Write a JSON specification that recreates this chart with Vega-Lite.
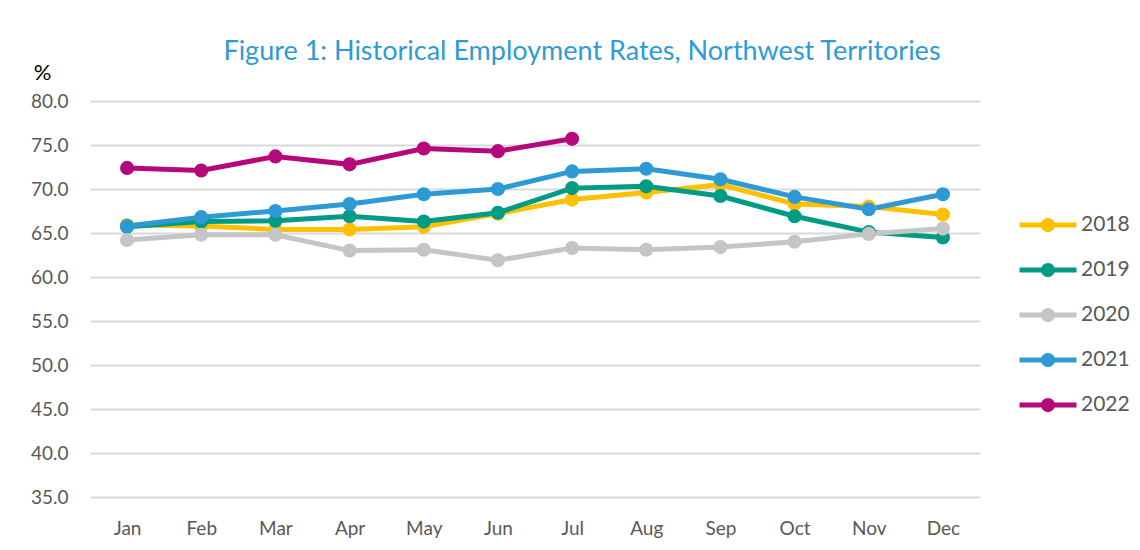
{
  "$schema": "https://vega.github.io/schema/vega-lite/v6.json",
  "width": 890,
  "height": 396,
  "autosize": "none",
  "padding": {"left": 90, "top": 101, "right": 160, "bottom": 53},
  "background": "white",
  "title": {
    "text": "Figure 1: Historical Employment Rates, Northwest Territories",
    "anchor": "middle",
    "dx": 47,
    "dy": 45,
    "offset": 40,
    "font": "Lato",
    "fontSize": 27,
    "fontWeight": "normal",
    "color": "#2E9BD6"
  },
  "data": {
    "values": [
      {"month": "Jan", "year": "2018", "value": 65.9},
      {"month": "Feb", "year": "2018", "value": 65.8},
      {"month": "Mar", "year": "2018", "value": 65.4},
      {"month": "Apr", "year": "2018", "value": 65.4},
      {"month": "May", "year": "2018", "value": 65.7},
      {"month": "Jun", "year": "2018", "value": 67.2},
      {"month": "Jul", "year": "2018", "value": 68.8},
      {"month": "Aug", "year": "2018", "value": 69.6},
      {"month": "Sep", "year": "2018", "value": 70.5},
      {"month": "Oct", "year": "2018", "value": 68.3},
      {"month": "Nov", "year": "2018", "value": 68.0},
      {"month": "Dec", "year": "2018", "value": 67.1},
      {"month": "Jan", "year": "2019", "value": 65.7},
      {"month": "Feb", "year": "2019", "value": 66.3},
      {"month": "Mar", "year": "2019", "value": 66.4},
      {"month": "Apr", "year": "2019", "value": 66.9},
      {"month": "May", "year": "2019", "value": 66.3},
      {"month": "Jun", "year": "2019", "value": 67.3},
      {"month": "Jul", "year": "2019", "value": 70.1},
      {"month": "Aug", "year": "2019", "value": 70.3},
      {"month": "Sep", "year": "2019", "value": 69.2},
      {"month": "Oct", "year": "2019", "value": 66.9},
      {"month": "Nov", "year": "2019", "value": 65.1},
      {"month": "Dec", "year": "2019", "value": 64.5},
      {"month": "Jan", "year": "2020", "value": 64.2},
      {"month": "Feb", "year": "2020", "value": 64.8},
      {"month": "Mar", "year": "2020", "value": 64.8},
      {"month": "Apr", "year": "2020", "value": 63.0},
      {"month": "May", "year": "2020", "value": 63.1},
      {"month": "Jun", "year": "2020", "value": 61.9},
      {"month": "Jul", "year": "2020", "value": 63.3},
      {"month": "Aug", "year": "2020", "value": 63.1},
      {"month": "Sep", "year": "2020", "value": 63.4},
      {"month": "Oct", "year": "2020", "value": 64.0},
      {"month": "Nov", "year": "2020", "value": 64.9},
      {"month": "Dec", "year": "2020", "value": 65.5},
      {"month": "Jan", "year": "2021", "value": 65.8},
      {"month": "Feb", "year": "2021", "value": 66.8},
      {"month": "Mar", "year": "2021", "value": 67.5},
      {"month": "Apr", "year": "2021", "value": 68.3},
      {"month": "May", "year": "2021", "value": 69.4},
      {"month": "Jun", "year": "2021", "value": 70.0},
      {"month": "Jul", "year": "2021", "value": 72.0},
      {"month": "Aug", "year": "2021", "value": 72.3},
      {"month": "Sep", "year": "2021", "value": 71.1},
      {"month": "Oct", "year": "2021", "value": 69.1},
      {"month": "Nov", "year": "2021", "value": 67.7},
      {"month": "Dec", "year": "2021", "value": 69.4},
      {"month": "Jan", "year": "2022", "value": 72.4},
      {"month": "Feb", "year": "2022", "value": 72.1},
      {"month": "Mar", "year": "2022", "value": 73.7},
      {"month": "Apr", "year": "2022", "value": 72.8},
      {"month": "May", "year": "2022", "value": 74.6},
      {"month": "Jun", "year": "2022", "value": 74.3},
      {"month": "Jul", "year": "2022", "value": 75.7}
    ]
  },
  "encoding": {
    "x": {
      "field": "month",
      "type": "ordinal",
      "sort": ["Jan", "Feb", "Mar", "Apr", "May", "Jun", "Jul", "Aug", "Sep", "Oct", "Nov", "Dec"],
      "scale": {"type": "point", "padding": 0.5},
      "axis": {
        "title": null,
        "labelAngle": 0,
        "domain": false,
        "ticks": false,
        "grid": false,
        "labelFont": "Lato",
        "labelFontSize": 19,
        "labelColor": "#595959",
        "labelPadding": 22
      }
    },
    "y": {
      "field": "value",
      "type": "quantitative",
      "scale": {"domain": [35, 80], "nice": false, "zero": false},
      "axis": {
        "values": [35, 40, 45, 50, 55, 60, 65, 70, 75, 80],
        "format": ".1f",
        "domain": false,
        "ticks": false,
        "grid": true,
        "gridColor": "#D9D9D9",
        "gridWidth": 2,
        "labelFont": "Lato",
        "labelFontSize": 19,
        "labelColor": "#595959",
        "labelPadding": 22,
        "title": "%",
        "titleAngle": 0,
        "titleX": -48,
        "titleY": -29,
        "titleAlign": "center",
        "titleBaseline": "middle",
        "titleFont": "Lato",
        "titleFontSize": 22,
        "titleFontWeight": "normal",
        "titleColor": "#000000"
      }
    },
    "color": {
      "field": "year",
      "type": "nominal",
      "scale": {
        "domain": ["2018", "2019", "2020", "2021", "2022"],
        "range": ["#FFC000", "#009B85", "#C4C5C7", "#2E9AD5", "#B5087B"]
      },
      "legend": {
        "title": null,
        "orient": "none",
        "legendX": 943,
        "legendY": 109,
        "symbolType": "M-1.9,-0.17H-0.44V0.17H-1.9Z M0.44,-0.17H1.9V0.17H0.44Z M-0.47,0A0.47,0.47,0,1,1,0.47,0A0.47,0.47,0,1,1,-0.47,0Z",
        "symbolSize": 900,
        "symbolStrokeWidth": 0,
        "symbolOpacity": 1,
        "labelOffset": 18,
        "labelFont": "Lato",
        "labelFontSize": 21,
        "labelColor": "#595959",
        "rowPadding": 20,
        "padding": 0
      }
    }
  },
  "layer": [
    {"mark": {"type": "line", "strokeWidth": 5}},
    {"mark": {"type": "point", "filled": true, "size": 200, "opacity": 1}}
  ],
  "config": {"view": {"stroke": null}}
}
